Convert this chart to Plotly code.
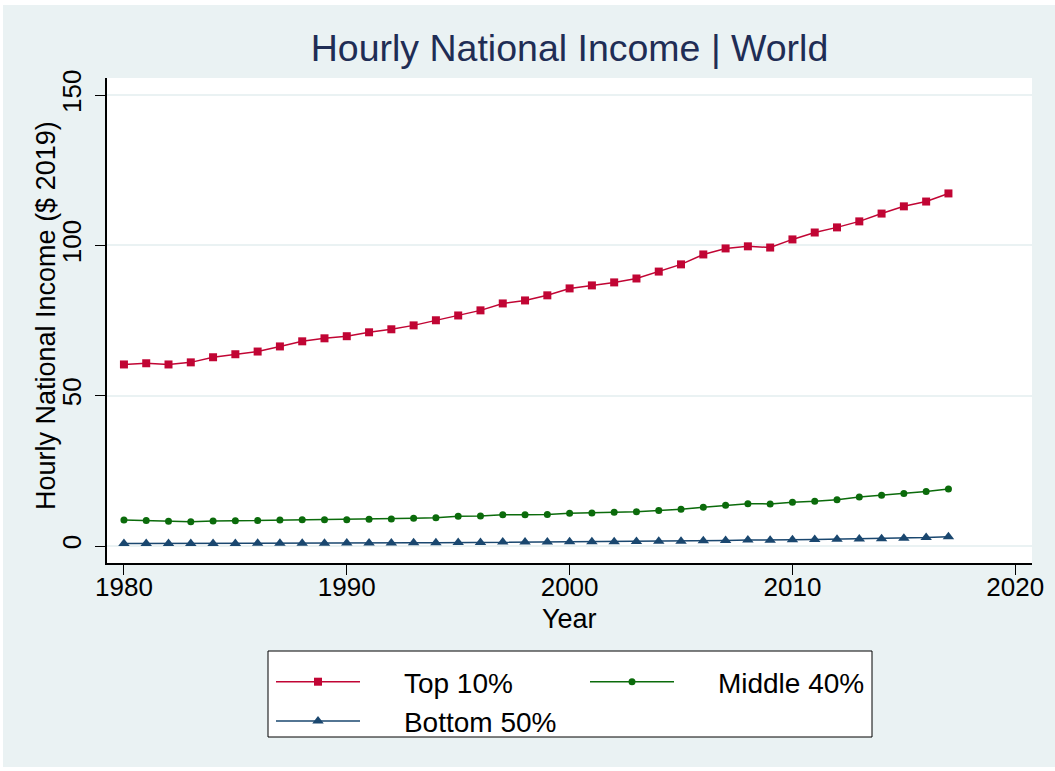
import plotly.graph_objects as go

years = list(range(1980, 2018))
top10 = [60.4, 60.8, 60.4, 61.1, 62.8, 63.8, 64.7, 66.4, 68.1, 69.1,
         69.8, 71.1, 72.1, 73.4, 75.1, 76.7, 78.4, 80.7, 81.7, 83.4,
         85.7, 86.7, 87.7, 89.0, 91.3, 93.7, 97.0, 99.0, 99.7, 99.3,
         102.0, 104.3, 106.0, 108.0, 110.6, 113.0, 114.6, 117.3]
middle40 = [8.65, 8.5, 8.2, 8.1, 8.3, 8.4, 8.5, 8.65, 8.75, 8.75,
            8.75, 8.9, 9.0, 9.2, 9.4, 9.9, 10.0, 10.4, 10.4, 10.5,
            10.9, 11.0, 11.2, 11.4, 11.8, 12.2, 12.9, 13.6, 14.1, 14.0,
            14.6, 14.9, 15.4, 16.3, 16.9, 17.5, 18.1, 19.0]
bottom50 = [0.8, 0.8, 0.8, 0.8, 0.85, 0.85, 0.9, 0.9, 0.95, 0.95,
            1.0, 1.0, 1.0, 1.05, 1.1, 1.15, 1.2, 1.3, 1.3, 1.35,
            1.4, 1.45, 1.45, 1.5, 1.55, 1.6, 1.75, 1.85, 2.0, 1.95,
            2.05, 2.15, 2.25, 2.35, 2.45, 2.6, 2.8, 3.1]

series_names = ["Top 10%", "Middle 40%", "Bottom 50%"]
x_ticks = [1980, 1990, 2000, 2010, 2020]
y_ticks = [0, 50, 100, 150]

BG = "#EAF2F3"
FONT = "Liberation Sans, Arial, sans-serif"
PAD = "\u00a0" * 5

# page geometry (figure placed at page x=3, y=5)
W, H = 1052, 762
L, T, R, B = 104, 73, 23, 204
PX0, PY0 = 107, 78          # plot-area top-left on page
PW, PH = 925, 485           # plot-area size


def px(xp):
    return (xp - PX0) / PW


def py(yp):
    return (PY0 + PH - yp) / PH


fig = go.Figure()
fig.add_trace(go.Scatter(x=years, y=top10, name=PAD + series_names[0], mode="lines+markers",
                         line=dict(color="#C10534", width=1.5),
                         marker=dict(symbol="square", size=8, color="#C10534")))
fig.add_trace(go.Scatter(x=years, y=middle40, name=PAD + series_names[1], mode="lines+markers",
                         line=dict(color="#0B6B0B", width=1.5),
                         marker=dict(symbol="circle", size=7, color="#0B6B0B")))
fig.add_trace(go.Scatter(x=years, y=bottom50, name=PAD + series_names[2], mode="lines+markers",
                         line=dict(color="#1A476F", width=1.5),
                         marker=dict(symbol="triangle-up", size=10, color="#1A476F")))

fig.add_shape(type="rect", xref="paper", yref="paper",
              x0=px(268), x1=px(872), y0=py(651), y1=py(737),
              line=dict(color="black", width=1), fillcolor="white", layer="above")

fig.add_annotation(text="Year", xref="paper", yref="paper", x=px(569.5), y=py(619),
                   xanchor="center", yanchor="middle", showarrow=False,
                   font=dict(size=27, color="black", family=FONT))
fig.add_annotation(text="Hourly National Income ($ 2019)", xref="paper", yref="paper",
                   x=px(46), y=py(316), textangle=-90,
                   xanchor="center", yanchor="middle", showarrow=False,
                   font=dict(size=27, color="black", family=FONT))

fig.update_layout(
    width=W, height=H,
    margin=dict(l=L, r=R, t=T, b=B),
    paper_bgcolor=BG, plot_bgcolor="white",
    font=dict(family=FONT, color="black", size=26),
    title=dict(text="Hourly National Income | World", x=px(569.5) * PW / W + L / W,
               xanchor="center", y=1 - (48 - 5) / H, yanchor="middle",
               font=dict(size=37.5, color="#1F2D55", family=FONT)),
    xaxis=dict(range=[1979.24, 2020.75], tickvals=x_ticks, ticks="outside", ticklen=10,
               tickcolor="black", showline=True, linecolor="black", linewidth=1.5,
               showgrid=False, zeroline=False, tickfont=dict(size=26),
               ticklabelstandoff=-10),
    yaxis=dict(range=[-5.65, 155.7], tickvals=y_ticks, ticks="outside", ticklen=10,
               tickcolor="black", showline=True, linecolor="black", linewidth=1.5,
               showgrid=True, gridcolor=BG, gridwidth=1.5, zeroline=False,
               tickangle=-90, tickfont=dict(size=26), ticklabelstandoff=4),
    legend=dict(orientation="h", x=px(271), xanchor="left",
                y=py(657), yanchor="top",
                bgcolor="rgba(0,0,0,0)", borderwidth=0,
                font=dict(size=28), itemwidth=84, entrywidth=215,
                tracegroupgap=0),
)

fig.write_html("out.html", post_script="document.body.style.margin='5px 0 0 3px';")
